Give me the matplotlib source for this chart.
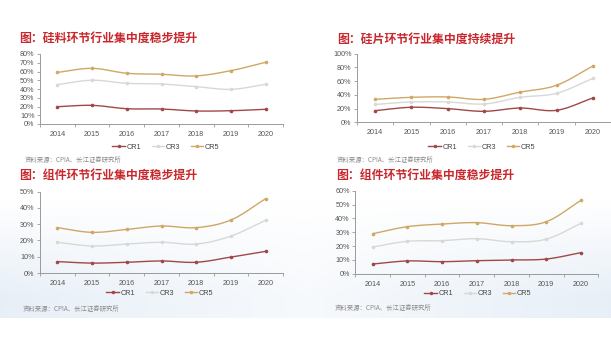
import numpy as np
import matplotlib
matplotlib.use("Agg")
import matplotlib.pyplot as plt
from matplotlib.lines import Line2D
from matplotlib.ticker import FuncFormatter, MultipleLocator

plt.rcParams['font.family'] = ['Noto Sans CJK SC', 'DejaVu Sans']

years = [2014, 2015, 2016, 2017, 2018, 2019, 2020]
series_names = ["CR1", "CR3", "CR5"]

# 硅料
poly_cr1 = [19.8, 21.3, 17.5, 17.1, 14.9, 15.2, 16.8]
poly_cr3 = [45.0, 50.0, 46.5, 45.7, 42.7, 39.6, 45.3]
poly_cr5 = [59.0, 63.6, 58.0, 56.8, 55.0, 61.0, 70.5]
# 硅片
wafer_cr1 = [17.0, 21.9, 19.9, 16.0, 20.8, 17.5, 35.4]
wafer_cr3 = [26.0, 29.6, 29.6, 26.7, 36.4, 42.3, 64.0]
wafer_cr5 = [33.5, 36.4, 36.9, 33.5, 44.0, 54.0, 82.0]
# 组件 (左下)
mod_a_cr1 = [7.0, 6.1, 6.6, 7.4, 6.6, 9.8, 13.3]
mod_a_cr3 = [18.9, 16.6, 17.8, 18.9, 17.8, 22.7, 32.4]
mod_a_cr5 = [27.9, 25.0, 26.8, 28.9, 27.9, 32.6, 45.7]
# 组件 (右下)
mod_b_cr1 = [7.0, 9.2, 8.7, 9.4, 9.9, 10.6, 15.2]
mod_b_cr3 = [19.3, 23.4, 23.9, 25.3, 23.1, 25.0, 36.4]
mod_b_cr5 = [28.9, 34.0, 35.9, 36.9, 34.7, 37.6, 53.0]

titles = ["图：硅料环节行业集中度稳步提升",
          "图：硅片环节行业集中度持续提升",
          "图：组件环节行业集中度稳步提升",
          "图：组件环节行业集中度稳步提升"]
source_text = "资料来源：CPIA、长江证券研究所"

colors = {"CR1": "#a04848", "CR3": "#d8d8d8", "CR5": "#cfa866"}

W, H = 611, 342
fig = plt.figure(figsize=(W / 100, H / 100), dpi=100)
fig.patch.set_facecolor("white")

# soft bluish haze behind the lower panels
bg = fig.add_axes([0, 0, 1, 1], zorder=-10)
bg.set_xlim(0, W)
bg.set_ylim(H, 0)
bg.axis("off")
yy = np.linspace(0, 1, 200)[:, None]
xx = np.linspace(0, 1, 300)[None, :]
alpha = np.clip(yy * 1.2, 0, 1) * (0.35 + 0.65 * np.abs(xx - 0.5) * 2)
img = np.zeros((200, 300, 4))
img[..., 0] = 0.87
img[..., 1] = 0.91
img[..., 2] = 0.96
img[..., 3] = alpha * 0.7
bg.imshow(img, extent=[0, W, 318, 200], aspect="auto", interpolation="bilinear")


def smooth(xs, ys, n=20):
    xs = np.asarray(xs, float)
    ys = np.asarray(ys, float)
    px = np.concatenate([[2 * xs[0] - xs[1]], xs, [2 * xs[-1] - xs[-2]]])
    py = np.concatenate([[2 * ys[0] - ys[1]], ys, [2 * ys[-1] - ys[-2]]])
    ox, oy = [], []
    for i in range(1, len(px) - 2):
        t = np.linspace(0, 1, n, endpoint=False)
        for arr, out in ((px, ox), (py, oy)):
            p0, p1, p2, p3 = arr[i - 1], arr[i], arr[i + 1], arr[i + 2]
            out.extend(0.5 * ((2 * p1) + (-p0 + p2) * t
                              + (2 * p0 - 5 * p1 + 4 * p2 - p3) * t ** 2
                              + (-p0 + 3 * p1 - 3 * p2 + p3) * t ** 3))
    ox.append(xs[-1])
    oy.append(ys[-1])
    return np.array(ox), np.array(oy)


def px_rect(x0, x1, ytop, ybot):
    return [x0 / W, 1 - ybot / H, (x1 - x0) / W, (ybot - ytop) / H]


panels = [
    dict(rect=px_rect(40, 283, 54, 124), data=(poly_cr1, poly_cr3, poly_cr5),
         ymax=80, step=10, title_xy=(19, 38), legend_y=147, legend_x=166, src_xy=(25, 160)),
    dict(rect=px_rect(357, 611, 53.7, 122.3), data=(wafer_cr1, wafer_cr3, wafer_cr5),
         ymax=100, step=20, title_xy=(337, 39), legend_y=147, legend_x=482, src_xy=(337, 160)),
    dict(rect=px_rect(40, 283, 191.7, 273), data=(mod_a_cr1, mod_a_cr3, mod_a_cr5),
         ymax=50, step=10, title_xy=(19, 175), legend_y=293, legend_x=160, src_xy=(23, 309)),
    dict(rect=px_rect(355.3, 598.4, 190.7, 273.7), data=(mod_b_cr1, mod_b_cr3, mod_b_cr5),
         ymax=60, step=10, title_xy=(336, 175), legend_y=293.5, legend_x=478, src_xy=(335, 308)),
]

for p, title in zip(panels, titles):
    ax = fig.add_axes(p["rect"])
    ax.patch.set_alpha(0)
    for name, vals in zip(series_names, p["data"]):
        sx, sy = smooth(years, vals)
        ax.plot(sx, sy, color=colors[name], lw=1.0, solid_capstyle="round", zorder=3)
        ax.plot(years, vals, ls="none", marker="o", ms=1.6, color=colors[name], zorder=4)
    ax.set_xlim(2013.5, 2020.5)
    ax.set_ylim(0, p["ymax"])
    ax.set_xticks(years)
    ax.set_xticks(np.arange(2013.5, 2021, 1.0), minor=True)
    ax.tick_params(axis="x", which="major", length=0, pad=5, labelsize=5.2, labelcolor="#555555")
    ax.tick_params(axis="x", which="minor", length=2, direction="out", color="#9a9a9a", width=0.6)
    ax.yaxis.set_major_locator(MultipleLocator(p["step"]))
    ax.yaxis.set_major_formatter(FuncFormatter(lambda v, _: f"{v:.0f}%"))
    ax.tick_params(axis="y", length=2, direction="out", color="#9a9a9a", width=0.6,
                   labelsize=5.2, labelcolor="#555555", pad=2)
    for t in ax.get_xticklabels() + ax.get_yticklabels():
        t.set_fontfamily(["Liberation Sans", "DejaVu Sans"])
    for side in ("top", "right"):
        ax.spines[side].set_visible(False)
    for side in ("left", "bottom"):
        ax.spines[side].set_color("#9a9a9a")
        ax.spines[side].set_linewidth(0.7)

    tx, ty = p["title_xy"]
    fig.text(tx / W, 1 - ty / H, title, color="#c8282d", fontsize=8.6,
             fontweight="bold", va="center", ha="left")
    sx_, sy_ = p["src_xy"]
    fig.text(sx_ / W, 1 - sy_ / H, source_text, color="#8a8a8a", fontsize=4.6,
             va="center", ha="left")

    handles = [Line2D([0], [0], color=colors[n], lw=1.0, marker="o", ms=1.5)
               for n in series_names]
    fig.legend(handles, series_names, loc="center",
               bbox_to_anchor=(p["legend_x"] / W, 1 - p["legend_y"] / H),
               ncol=3, frameon=False, handlelength=1.7,
               handletextpad=0.3, columnspacing=1.4, labelcolor="#444444",
               prop={"family": ["Liberation Sans", "DejaVu Sans"], "size": 5.2})

fig.savefig("out.png", dpi=100, facecolor="white")
